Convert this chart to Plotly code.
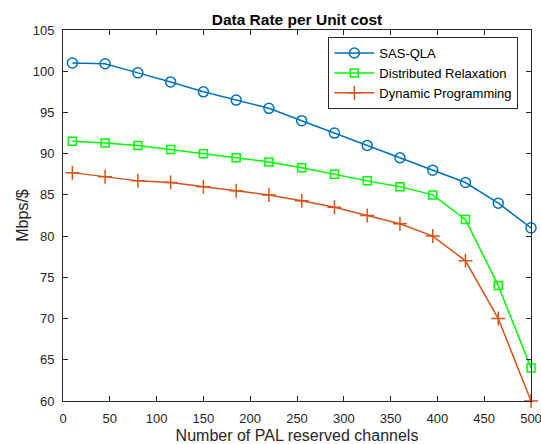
import plotly.graph_objects as go

channels = [10, 45, 80, 115, 150, 185, 220, 255, 290, 325, 360, 395, 430, 465, 500]
sas_qla = [101, 100.9, 99.8, 98.7, 97.5, 96.5, 95.5, 94, 92.5, 91, 89.5, 88, 86.5, 84, 81]
dist_relax = [91.5, 91.3, 91, 90.5, 90, 89.5, 89, 88.3, 87.5, 86.7, 86, 85, 82, 74, 64]
dyn_prog = [87.7, 87.2, 86.7, 86.5, 86, 85.5, 85, 84.3, 83.5, 82.5, 81.5, 80, 77, 70, 60]

x_ticks = [0, 50, 100, 150, 200, 250, 300, 350, 400, 450, 500]
y_ticks = [60, 65, 70, 75, 80, 85, 90, 95, 100, 105]

FONT = "Liberation Sans, Arial, Helvetica, sans-serif"
AX = "#262626"

fig = go.Figure()
fig.add_trace(go.Scatter(
    x=channels, y=sas_qla, name="SAS-QLA", mode="lines+markers", cliponaxis=False,
    line=dict(color="#0072BD", width=1.5),
    marker=dict(symbol="circle-open", size=10, color="#0072BD", line=dict(width=1.5, color="#0072BD")),
))
fig.add_trace(go.Scatter(
    x=channels, y=dist_relax, name="Distributed Relaxation", mode="lines+markers", cliponaxis=False,
    line=dict(color="#00FF00", width=1.5),
    marker=dict(symbol="square-open", size=8, color="#00FF00", line=dict(width=1.5, color="#00FF00")),
))
fig.add_trace(go.Scatter(
    x=channels, y=dyn_prog, name="Dynamic Programming", mode="lines+markers", cliponaxis=False,
    line=dict(color="#D95319", width=1.5),
    marker=dict(symbol="cross-thin-open", size=10, color="#D95319", line=dict(width=1.5, color="#D95319")),
))

fig.update_layout(
    width=541, height=444,
    margin=dict(l=63, r=10, t=30, b=43),
    paper_bgcolor="white", plot_bgcolor="white",
    font=dict(family=FONT, size=13, color=AX),
    title=dict(text="<b>Data Rate per Unit cost</b>", x=0.5, xref="paper", xanchor="center",
               y=1, yref="paper", yanchor="bottom", pad=dict(b=5),
               font=dict(family=FONT, size=15.5, color="black")),
    showlegend=True,
    legend=dict(x=0.973, y=0.981, xanchor="right", yanchor="top",
                bgcolor="white", bordercolor=AX, borderwidth=1,
                font=dict(family=FONT, size=13, color="black"),
                tracegroupgap=0, itemwidth=40),
    xaxis=dict(range=[0, 500], tickvals=x_ticks, ticktext=[str(v) for v in x_ticks],
               ticks="inside", ticklen=5, tickcolor=AX, showline=True, linecolor=AX, linewidth=1,
               mirror="ticks", showgrid=False, zeroline=False, ticklabelstandoff=5, automargin=False,
               ticklabeloverflow="allow",
               title=dict(text="Number of PAL reserved channels", font=dict(size=16, color=AX), standoff=7),
               tickfont=dict(size=13, color=AX)),
    yaxis=dict(range=[60, 105], tickvals=y_ticks, ticktext=[str(v) for v in y_ticks],
               ticks="inside", ticklen=5, tickcolor=AX, showline=True, linecolor=AX, linewidth=1,
               mirror="ticks", showgrid=False, zeroline=False, ticklabelstandoff=5, automargin=False,
               ticklabeloverflow="allow",
               title=dict(text="Mbps/$", font=dict(size=16, color=AX), standoff=0),
               tickfont=dict(size=13, color=AX)),
)

fig.write_html("out.html")
